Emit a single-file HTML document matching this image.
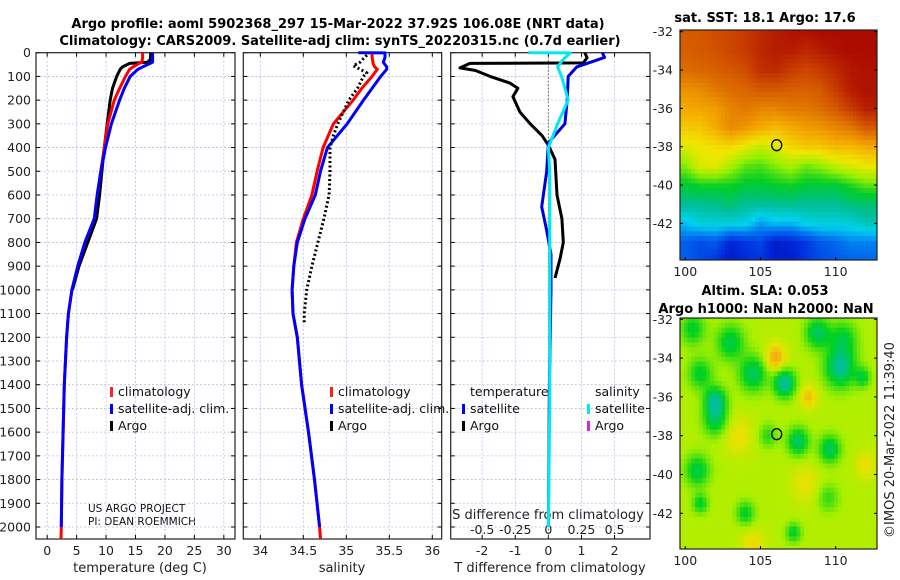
<!DOCTYPE html>
<html><head><meta charset="utf-8"><style>
html,body{margin:0;padding:0;background:#fff;width:900px;height:580px;overflow:hidden}
svg{display:block;font-family:"DejaVu Sans","Liberation Sans",sans-serif}
</style></head><body>
<svg id="fig" width="900" height="580" viewBox="0 0 900 580" xmlns="http://www.w3.org/2000/svg">
<defs>
<clipPath id="clip0"><rect x="680" y="30" width="197" height="230"/></clipPath>
<clipPath id="clip1"><rect x="680" y="318" width="197" height="231"/></clipPath>
</defs>
<text x="338" y="28" font-size="13" font-weight="bold" text-anchor="middle">Argo profile: aoml 5902368_297 15-Mar-2022 37.92S 106.08E (NRT data)</text>
<text x="340" y="45" font-size="13" font-weight="bold" text-anchor="middle">Climatology: CARS2009. Satellite-adj clim: synTS_20220315.nc (0.7d earlier)</text>
<text x="140" y="572" font-size="13" text-anchor="middle" fill="#222">temperature (deg C)</text>
<text x="342" y="572" font-size="13" text-anchor="middle" fill="#222">salinity</text>
<text x="550" y="572" font-size="13" text-anchor="middle" fill="#222">T difference from climatology</text>
<text x="548" y="519" font-size="13" text-anchor="middle" fill="#222">S difference from climatology</text>
<text x="88" y="512" font-size="10.5" fill="#111">US ARGO PROJECT</text>
<text x="88" y="525" font-size="10.5" fill="#111">PI: DEAN ROEMMICH</text>
<text x="765" y="22" font-size="13" font-weight="bold" text-anchor="middle">sat. SST: 18.1 Argo: 17.6</text>
<text x="765" y="295" font-size="13" font-weight="bold" text-anchor="middle">Altim. SLA: 0.053</text>
<text x="766" y="313" font-size="13" font-weight="bold" text-anchor="middle">Argo h1000: NaN h2000: NaN</text>
<text transform="translate(894,440) rotate(-90)" font-size="13" text-anchor="middle" fill="#222">©IMOS 20-Mar-2022 11:39:40</text>
</svg>
<script>
// ---- profile data ----
const presLevels = [0,1,20,40,45,60,70,100,150,200,300,400,500,600,700,800,900,1000,1100,1200,1400,1600,1800,2000,2050];
const tempClim = [16.2,16.2,16.2,16.1,15.6,14.6,14.0,13.3,12.3,11.4,10.3,9.7,9.1,8.5,8.0,6.4,5.2,4.2,3.6,3.3,2.9,2.7,2.5,2.4,2.35];
const tempSat  = [17.9,17.9,17.9,17.9,17.5,16.2,15.4,14.1,13.1,12.3,10.9,9.9,9.1,8.5,8.0,6.4,5.2,4.2,3.6,3.3,2.9,2.7,2.5,2.4,2.4];
const argoPres = [0,30,40,45,60,70,100,150,200,300,400,500,600,700,800,900,1000];
const tempArgo = [17.6,17.5,17.0,14.0,12.8,12.4,11.8,11.1,10.7,10.2,9.7,9.3,8.9,8.4,6.9,5.4,4.3];
const salClim = [35.30,35.30,35.30,35.31,35.31,35.33,35.36,35.30,35.18,35.08,34.85,34.73,34.66,34.60,34.50,34.42,34.39,34.37,34.38,34.43,34.48,34.56,34.63,34.69,34.70];
const salSat  = [35.14,35.45,35.45,35.43,35.44,35.47,35.47,35.40,35.30,35.20,35.01,34.78,34.70,34.64,34.52,34.43,34.39,34.37,34.38,34.43,34.48,34.56,34.63,34.69,34.70];
const salArgoPres = [10,25,40,55,70,85,100,150,200,300,350,400,500,600,700,800,900,1000,1100,1140];
const salArgo = [35.24,35.20,35.16,35.08,35.16,35.24,35.20,35.13,35.03,34.90,34.85,34.81,34.81,34.80,34.74,34.67,34.60,34.54,34.51,34.51];
const dTArgoPres = [0,22,43,45,64,75,100,128,150,185,250,300,350,390,450,600,700,800,870,950];
const dTArgo = [1.1,1.17,1.05,-2.37,-2.67,-2.2,-1.76,-1.16,-0.92,-1.07,-0.86,-0.55,-0.19,0.0,0.2,0.26,0.41,0.45,0.35,0.2];
const dTSatPres = [0,20,60,100,200,300,380,500,650,750,850,1000,1400,2000];
const dTSat = [1.63,1.7,0.86,0.6,0.57,0.5,0.0,-0.05,-0.2,-0.05,0.08,0.08,0.03,0.0];
const dSSatPres = [0,1,30,60,100,200,300,400,500,1000,1500,2000];
const dSSat = [-0.15,0.165,0.11,0.07,0.1,0.15,0.07,0.0,0.01,0.01,0.01,0.0];
const depthTicks = [0,100,200,300,400,500,600,700,800,900,1000,1100,1200,1300,1400,1500,1600,1700,1800,1900,2000];
const tempTicks = [0,5,10,15,20,25,30];
const salTicks = [34,34.5,35,35.5,36];
const dTTicks = [-2,-1,0,1,2];
const dSTicks = [-0.5,-0.25,0,0.25,0.5];
const dSTickLabels = ['-0.5','-0.25','0','0.25','0.5'];
// ---- map data ----
const sstGrid = [
[0.85,0.85,0.87,0.88,0.90,0.93,0.95,0.97,0.97,0.98,0.98,0.98,0.98],
[0.84,0.85,0.86,0.88,0.90,0.93,0.95,0.95,0.93,0.95,0.97,0.98,0.98],
[0.82,0.83,0.84,0.85,0.87,0.92,0.93,0.90,0.88,0.90,0.93,0.96,0.97],
[0.76,0.77,0.80,0.82,0.83,0.85,0.85,0.84,0.84,0.85,0.90,0.95,0.97],
[0.72,0.73,0.74,0.78,0.80,0.78,0.78,0.80,0.80,0.82,0.85,0.90,0.95],
[0.68,0.68,0.72,0.77,0.75,0.72,0.70,0.72,0.74,0.75,0.78,0.80,0.85],
[0.62,0.64,0.65,0.66,0.63,0.60,0.62,0.66,0.68,0.68,0.70,0.70,0.72],
[0.55,0.62,0.63,0.58,0.53,0.52,0.55,0.58,0.54,0.56,0.60,0.62,0.64],
[0.47,0.49,0.49,0.49,0.47,0.47,0.48,0.49,0.47,0.47,0.47,0.50,0.53],
[0.40,0.40,0.41,0.43,0.40,0.40,0.40,0.41,0.40,0.40,0.40,0.42,0.43],
[0.30,0.34,0.34,0.34,0.33,0.27,0.30,0.29,0.33,0.34,0.34,0.34,0.37],
[0.20,0.17,0.19,0.11,0.14,0.16,0.09,0.11,0.14,0.19,0.21,0.24,0.24],
[0.20,0.17,0.14,0.08,0.12,0.14,0.09,0.09,0.14,0.17,0.19,0.20,0.21]];
const slaBase = 0.52;
const eddyLon = [102,102,106.6,110.3,108.8,100.5,103,104.5,101,105.5,107.5,109.6,100.8,101,104,107.2,111.8,109.5,106,108.2,103.5,104.5,108,112,110.5];
const eddyLat = [-36.2,-37.2,-35.3,-34.5,-32.7,-32.5,-33.2,-34.8,-34.8,-38,-38.3,-38.7,-39.8,-41.5,-42,-43,-35,-41.2,-34,-36,-38,-43.6,-40.5,-39.5,-33];
const eddyAmp = [-0.5,-0.35,-0.55,-0.5,-0.4,-0.3,-0.35,-0.4,-0.3,-0.22,-0.42,-0.4,-0.35,-0.3,-0.3,-0.3,-0.3,-0.2,0.3,0.22,0.14,0.15,0.12,0.14,-0.3];
const eddyWidth = [0.7,0.8,0.7,1.0,0.8,0.8,0.9,0.9,0.8,0.6,0.7,0.7,0.8,0.5,0.6,0.5,0.5,0.7,0.7,0.6,1.0,0.8,1.0,0.7,0.9];
const argoLon = 106.08, argoLat = -37.92;

const NS='http://www.w3.org/2000/svg';
const fig=document.getElementById('fig');
function mk(tag,attrs,parent){const e=document.createElementNS(NS,tag);for(const k in attrs)e.setAttribute(k,attrs[k]);(parent||fig).appendChild(e);return e;}
const Y0=52.7, PY=0.23715, YB=539;
const yP=p=>Y0+p*PY;
const panels=[
 {x0:36,x1:235,lo:-1.9,hi:31.9,name:'temperature'},
 {x0:243.3,x1:441.7,lo:33.8023,hi:36.1093,name:'salinity'},
 {x0:450.7,x1:650,lo:-2.95,hi:3.07,name:'difference'}];
function sx(pi,v){const P=panels[pi];return P.x0+(v-P.lo)/(P.hi-P.lo)*(P.x1-P.x0);}
function sxS(v){return sx(2,v*4);}

panels.forEach((P,pi)=>{
 const g=mk('g',{});
 
 
 const ticks=pi===0?tempTicks:pi===1?salTicks:dTTicks;
 depthTicks.forEach(d=>{
  const l=mk('line',{x1:P.x0,x2:P.x1,y1:yP(d),y2:yP(d),stroke:'#b4bfe4','stroke-width':0.8,'stroke-dasharray':'2,2'},g);
  
  
  mk('line',{x1:P.x0,x2:P.x0+4,y1:yP(d),y2:yP(d),stroke:'#000'},g);
  mk('line',{x1:P.x1-4,x2:P.x1,y1:yP(d),y2:yP(d),stroke:'#000'},g);
 });
 ticks.forEach(t=>{
  const x=sx(pi,t);
  const l=mk('line',{x1:x,x2:x,y1:Y0,y2:YB,stroke:'#b4bfe4','stroke-width':0.8,'stroke-dasharray':'2,2'},g);
  
  
  mk('line',{x1:x,x2:x,y1:YB-4,y2:YB,stroke:'#000'},g);
  mk('line',{x1:x,x2:x,y1:Y0,y2:Y0+4,stroke:'#000'},g);
  const tx=mk('text',{x:x,y:555,'font-size':12.5,'text-anchor':'middle',fill:'#222'},g);
  tx.textContent=String(t);
  
  
 });
 const b=mk('rect',{x:P.x0,y:Y0,width:P.x1-P.x0,height:YB-Y0,fill:'none',stroke:'#222','stroke-width':1.2},g);
 
 
});
depthTicks.forEach(d=>{
 const t=mk('text',{x:31,y:yP(d)+4.5,'font-size':12.5,'text-anchor':'end',fill:'#222'});
 t.textContent=String(d);
 
 
});
dSTicks.forEach((s,i)=>{
 const t=mk('text',{x:sxS(s),y:534,'font-size':12.5,'text-anchor':'middle',fill:'#222'});
 t.textContent=dSTickLabels[i];
 
 
});
const zl=mk('line',{x1:sx(2,0),x2:sx(2,0),y1:Y0,y2:YB,stroke:'#556b2f','stroke-width':1,'stroke-dasharray':'1.5,2'});



function poly(pres,vals,fx,color,w,dash,name){
 const pts=pres.map((p,i)=>fx(vals[i]).toFixed(1)+','+yP(p).toFixed(1)).join(' ');
 const a={points:pts,fill:'none',stroke:color,'stroke-width':w,'stroke-linejoin':'round'};
 if(dash)a['stroke-dasharray']=dash;
 const e=mk('polyline',a);
 
 
 return e;
}
poly(argoPres,tempArgo,v=>sx(0,v),'#000',3,null,'argo-temperature-line');
poly(presLevels,tempClim,v=>sx(0,v),'#ff0000',3,null,'climatology-temperature-line');
poly(presLevels.slice(0,-1),tempSat.slice(0,-1),v=>sx(0,v),'#0000ff',3,null,'satellite-temperature-line');
poly(presLevels,salClim,v=>sx(1,v),'#ff0000',3,null,'climatology-salinity-line');
poly(presLevels.slice(0,-1),salSat.slice(0,-1),v=>sx(1,v),'#0000ff',3,null,'satellite-salinity-line');
poly(salArgoPres,salArgo,v=>sx(1,v),'#000',3,'2,2.5','argo-salinity-line');
poly(dTArgoPres,dTArgo,v=>sx(2,v),'#000',3,null,'argo-t-difference-line');
poly(dTSatPres,dTSat,v=>sx(2,v),'#0000dd',3,null,'satellite-t-difference-line');
poly(dSSatPres,dSSat,v=>sxS(v),'#00e8f0',3,null,'satellite-s-difference-line');

function legItem(x,y,color,label,name){
 const m=mk('rect',{x:x,y:y-9,width:3,height:10,fill:color});
 
 
 const t=mk('text',{x:x+8,y:y,'font-size':12.5,fill:'#111'});
 t.textContent=label;
 
 
}
legItem(110,396,'#ff2020','climatology','legend-t-climatology');
legItem(110,413,'#0000ff','satellite-adj. clim.','legend-t-satellite');
legItem(110,430,'#000','Argo','legend-t-argo');
legItem(330,396,'#ff2020','climatology','legend-s-climatology');
legItem(330,413,'#0000ff','satellite-adj. clim.','legend-s-satellite');
legItem(330,430,'#000','Argo','legend-s-argo');
legItem(462,413,'#0000ff','satellite','legend-dt-satellite');
legItem(462,430,'#000','Argo','legend-dt-argo');
legItem(587,413,'#00e8f0','satellite','legend-ds-satellite');
legItem(587,430,'#e020e0','Argo','legend-ds-argo');
const lt1=mk('text',{x:470,y:396,'font-size':12.5,fill:'#111'});lt1.textContent='temperature';


const lt2=mk('text',{x:595,y:396,'font-size':12.5,fill:'#111'});lt2.textContent='salinity';



// maps
function cmap(stops,v){v=Math.max(0,Math.min(1,v));for(let i=1;i<stops.length;i++){if(v<=stops[i][0]){const a=stops[i-1],b=stops[i],f=(v-a[0])/(b[0]-a[0]||1);const c=[0,1,2].map(k=>Math.round(a[1][k]+(b[1][k]-a[1][k])*f));return 'rgb('+c.join(',')+')';}}const l=stops[stops.length-1][1];return 'rgb('+l.join(',')+')';}
const sstStops=[[0,[0,0,140]],[0.12,[0,40,220]],[0.22,[0,110,240]],[0.32,[0,210,240]],[0.4,[0,190,150]],[0.48,[0,205,40]],[0.56,[150,240,0]],[0.64,[240,230,0]],[0.72,[245,170,0]],[0.8,[225,120,0]],[0.88,[205,70,0]],[1,[165,0,0]]];
const slaStops=[[0,[0,190,160]],[0.25,[0,210,30]],[0.5,[170,240,0]],[0.65,[235,225,0]],[0.8,[240,170,20]],[1,[235,110,20]]];
const maps=[{x0:680,x1:877,top:30,bot:260,lonLo:99.65,lonHi:112.75,y0:31.7,py:19.17,name:'sst-map'},
            {x0:680,x1:877,top:318,bot:549,lonLo:99.65,lonHi:112.75,y0:319.3,py:19.4,name:'sla-map'}];
function sstVal(lon,lat){const fi=Math.max(0,Math.min(11.999,-32-lat)),fj=Math.max(0,Math.min(11.999,lon-100));const i=Math.floor(fi),j=Math.floor(fj),a=fi-i,b=fj-j;return sstGrid[i][j]*(1-a)*(1-b)+sstGrid[i+1][j]*a*(1-b)+sstGrid[i][j+1]*(1-a)*b+sstGrid[i+1][j+1]*a*b;}
function slaVal(lon,lat){let v=slaBase;for(let k=0;k<eddyLon.length;k++){const d2=(lon-eddyLon[k])**2+(lat-eddyLat[k])**2;v+=eddyAmp[k]*Math.exp(-d2/(eddyWidth[k]*eddyWidth[k]));}return v;}
maps.forEach((M,mi)=>{
 const g=mk('g',{});
 
 
 const cells=mk('g',{'clip-path':'url(#clip'+mi+')'},g);
 const sx_=lon=>M.x0+(lon-M.lonLo)/(M.lonHi-M.lonLo)*(M.x1-M.x0);
 const sy_=lat=>M.y0+(-32-lat)*M.py;
 const latOf=y=>-32-(y-M.y0)/M.py;
 const step=0.25;
 const latTop=latOf(M.top), latBot=latOf(M.bot);
 for(let lat=latTop; lat>latBot; lat-=step){
  for(let lon=M.lonLo; lon<M.lonHi; lon+=step){
   const v=mi===0?sstVal(lon+step/2,lat-step/2):slaVal(lon+step/2,lat-step/2);
   const x=sx_(lon), y=sy_(lat), x2=sx_(lon+step), y2=sy_(lat-step);
   mk('rect',{x:x.toFixed(2),y:y.toFixed(2),width:(x2-x+0.4).toFixed(2),height:(y2-y+0.4).toFixed(2),fill:cmap(mi===0?sstStops:slaStops,v)},cells);
  }
 }
 const fr=mk('rect',{x:M.x0,y:M.top,width:M.x1-M.x0,height:M.bot-M.top,fill:'none',stroke:'#222','stroke-width':1.2},g);
 
 
 [-32,-34,-36,-38,-40,-42].forEach(lat=>{
  const y=sy_(lat);
  mk('line',{x1:M.x0,x2:M.x0+3,y1:y,y2:y,stroke:'#000'},g);
  mk('line',{x1:M.x1-3,x2:M.x1,y1:y,y2:y,stroke:'#000'},g);
  const t=mk('text',{x:673,y:y+4.5,'font-size':12.5,'text-anchor':'end',fill:'#222'},g);
  t.textContent=String(lat);
  
  
 });
 [100,105,110].forEach(lon=>{
  const x=sx_(lon);
  mk('line',{x1:x,x2:x,y1:M.bot-3,y2:M.bot,stroke:'#000'},g);
  const t=mk('text',{x:x,y:M.bot+16,'font-size':12.5,'text-anchor':'middle',fill:'#222'},g);
  t.textContent=String(lon);
  
  
 });
 const c=mk('ellipse',{cx:sx_(argoLon),cy:sy_(argoLat),rx:5,ry:5.5,fill:'none',stroke:'#000','stroke-width':1.3},g);
 
 
});
</script>
</body></html>
